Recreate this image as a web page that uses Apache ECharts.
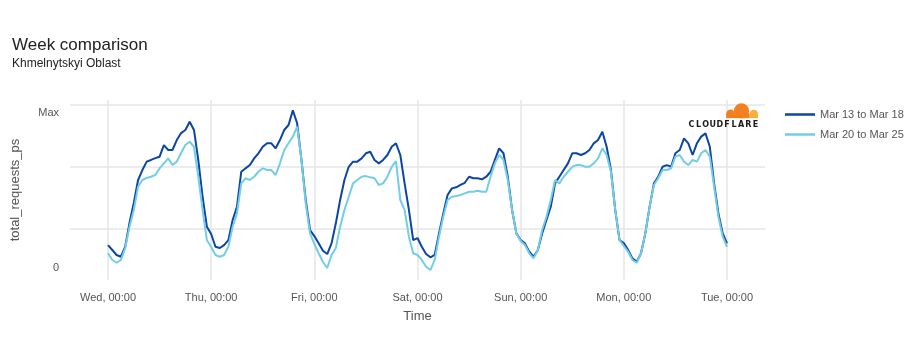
<!DOCTYPE html>
<html>
<head>
<meta charset="utf-8">
<script src="https://cdn.jsdelivr.net/npm/echarts@6/dist/echarts.min.js"></script>
<style>
html,body{margin:0;padding:0;background:#fff;}
#chart{width:920px;height:360px;}
</style>
</head>
<body>
<div id="chart"></div>
<script>
// x tick labels (hours from Wed 00:00)
const tickHours = [0, 24, 48, 72, 96, 120, 144];
const tickLabels = ['Wed, 00:00', 'Thu, 00:00', 'Fri, 00:00', 'Sat, 00:00', 'Sun, 00:00', 'Mon, 00:00', 'Tue, 00:00'];
const seriesNames = ['Mar 13 to Mar 18', 'Mar 20 to Mar 25'];

// hourly values, normalised (0 .. Max = 100)
const week1 = [
  14.8, 11.6, 8.4, 7.3, 13.7, 29.0, 41.9, 56.7, 63.1, 68.5, 69.6, 70.8, 71.7, 79.2, 76.0, 76.0, 82.4, 86.9, 88.9, 94.2, 88.9, 69.6, 45.9, 26.6,
  21.9, 13.7, 12.9, 14.8, 18.0, 30.9, 39.5, 62.0, 64.2, 66.3, 70.6, 73.9, 78.1, 80.3, 80.3, 77.1, 82.4, 88.9, 92.1, 101.5, 93.2, 69.6, 43.8, 24.5,
  20.6, 15.9, 11.1, 9.0, 15.9, 28.8, 43.8, 56.7, 65.2, 68.5, 68.5, 70.6, 73.9, 74.9, 69.6, 67.4, 69.6, 72.8, 78.1, 80.3, 72.8, 54.5, 37.4, 18.0,
  19.3, 13.7, 9.0, 6.9, 8.4, 22.3, 35.2, 47.0, 51.3, 52.0, 53.5, 54.9, 58.8, 57.8, 57.8, 57.1, 58.8, 62.0, 69.6, 77.1, 73.9, 58.8, 37.4, 22.3,
  18.0, 15.9, 10.5, 7.3, 11.6, 22.3, 30.9, 39.5, 54.5, 58.8, 63.1, 67.4, 73.9, 73.9, 72.8, 73.9, 76.0, 80.3, 82.4, 87.8, 78.1, 63.1, 37.4, 18.0,
  16.1, 11.6, 6.2, 4.1, 9.5, 22.3, 39.5, 54.5, 58.8, 65.2, 66.3, 65.2, 73.9, 76.0, 83.5, 80.3, 72.8, 80.3, 84.6, 86.7, 78.1, 54.5, 35.2, 22.3,
  15.9
];
const week2 = [
  9.7, 5.2, 3.4, 5.2, 12.9, 26.6, 37.4, 52.4, 56.7, 58.0, 58.8, 59.9, 64.2, 67.4, 70.6, 66.3, 68.5, 74.1, 79.2, 81.3, 78.1, 58.8, 37.4, 18.0,
  13.5, 8.4, 7.3, 8.4, 13.7, 26.6, 35.2, 54.5, 57.8, 56.7, 58.8, 62.0, 64.2, 63.1, 63.1, 59.9, 67.4, 76.0, 80.3, 84.6, 91.0, 69.6, 41.7, 22.3,
  15.5, 9.5, 3.9, 0.0, 8.4, 12.9, 26.6, 37.4, 45.9, 54.5, 56.7, 58.8, 59.2, 58.4, 57.8, 53.5, 54.5, 58.8, 65.2, 68.9, 43.8, 37.4, 20.2, 9.5,
  8.4, 5.2, 0.8, -1.3, 5.2, 20.2, 33.0, 43.8, 45.9, 46.4, 47.0, 48.1, 49.1, 49.1, 49.8, 49.1, 49.1, 58.8, 67.4, 72.8, 69.6, 56.7, 37.4, 22.3,
  17.4, 14.8, 9.5, 6.2, 11.6, 24.5, 33.0, 43.8, 56.7, 54.5, 58.8, 62.0, 65.2, 66.3, 66.3, 65.2, 65.2, 67.4, 70.6, 77.1, 72.8, 62.0, 37.4, 18.0,
  14.2, 10.5, 5.2, 3.4, 9.5, 22.3, 39.5, 53.5, 57.8, 63.1, 63.1, 64.2, 71.7, 72.8, 68.5, 66.3, 69.6, 68.5, 73.9, 76.0, 71.7, 52.4, 33.0, 20.2,
  13.7
];
const yLabelValues = [0, 100];
const yGridValues = [25, 65, 105];

const hours = week1.map((_, i) => i);
const toPairs = arr => arr.map((v, i) => [hours[i], v]);

const chart = echarts.init(document.getElementById('chart'), null, {renderer: 'canvas'});
const gridColor = '#e6e6e6';
const font = 'Liberation Sans, Arial, Helvetica, sans-serif';

const logoLetters = 'CLOUDFLARE'.split('');
const dark = '#f38020', lightO = '#faae40';
const logo = [
  {type: 'circle', shape: {cx: 741.5, cy: 110.8, r: 7.6}, style: {fill: dark}, z: 100},
  {type: 'circle', shape: {cx: 730.5, cy: 113.8, r: 4.3}, style: {fill: dark}, z: 100},
  {type: 'rect', shape: {x: 726.2, y: 113.5, width: 23, height: 4.6}, style: {fill: dark}, z: 100},
  {type: 'circle', shape: {cx: 753.8, cy: 113.9, r: 4.2}, style: {fill: lightO}, z: 99},
  {type: 'rect', shape: {x: 748.5, y: 113.9, width: 9.5, height: 4.2}, style: {fill: lightO}, z: 99}
].concat(logoLetters.map((ch, i) => ({
  type: 'text', x: 691.5 + i * 7.1, y: 124.5, z: 100,
  style: {text: ch, fill: '#1a1a1a', font: 'bold 8px DejaVu Sans, sans-serif', textAlign: 'center', textVerticalAlign: 'middle'}
})));

chart.setOption({
  animation: false,
  textStyle: {fontFamily: font},
  title: {
    text: 'Week comparison', subtext: 'Khmelnytskyi Oblast',
    left: 12, top: 37, padding: 0, itemGap: 4,
    textStyle: {fontSize: 17, fontWeight: 'normal', color: '#222', fontFamily: font},
    subtextStyle: {fontSize: 12, color: '#222', fontFamily: font}
  },
  legend: {
    orient: 'vertical', left: 785, top: 109, icon: 'rect', padding: 0,
    itemWidth: 30, itemHeight: 2.5, itemGap: 9,
    textStyle: {fontSize: 11, color: '#555', fontFamily: font},
    data: seriesNames
  },
  grid: {left: 70, right: 155, top: 100, bottom: 80, containLabel: false},
  xAxis: {
    type: 'value', min: -8.84, max: 152.84,
    axisLine: {show: false},
    axisTick: {show: false, customValues: tickHours},
    axisLabel: {
      customValues: tickHours, color: '#555', fontSize: 11, margin: 12, fontFamily: font,
      formatter: v => tickLabels[tickHours.indexOf(v)] || ''
    },
    splitLine: {show: true, lineStyle: {color: gridColor, width: 1.5}},
    name: 'Time', nameLocation: 'middle', nameGap: 30,
    nameTextStyle: {fontSize: 13, color: '#555', fontFamily: font}
  },
  yAxis: {
    type: 'value', min: -7.7, max: 108.2,
    axisLine: {show: false},
    axisTick: {show: false, customValues: yGridValues},
    axisLabel: {
      customValues: yLabelValues, color: '#555', fontSize: 11, margin: 11, fontFamily: font,
      formatter: v => v === 100 ? 'Max' : '0'
    },
    splitLine: {show: true, lineStyle: {color: gridColor, width: 1.5}},
    name: 'total_requests_ps', nameLocation: 'middle', nameGap: 48,
    nameTextStyle: {fontSize: 13, color: '#555', fontFamily: font}
  },
  series: [
    {name: seriesNames[0], type: 'line', data: toPairs(week1), showSymbol: false, color: '#0d45a5', lineStyle: {width: 2, color: '#0d45a5'}},
    {name: seriesNames[1], type: 'line', data: toPairs(week2), showSymbol: false, color: '#72cde6', lineStyle: {width: 2, color: '#72cde6'}}
  ],
  graphic: logo
});
</script>
</body>
</html>
